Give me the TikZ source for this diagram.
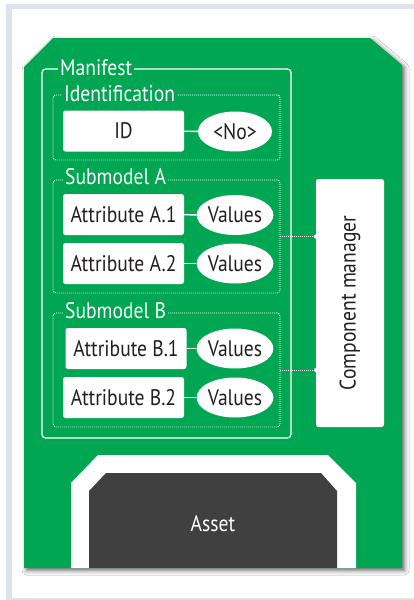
\documentclass[tikz,border=0pt]{standalone}
\usepackage{fontspec}
\setmainfont{PT Sans}[FakeStretch=0.87]
\usetikzlibrary{shapes.geometric,shadows.blur}
\definecolor{leafgreen}{HTML}{00A651}
\definecolor{assetgray}{HTML}{404040}
\definecolor{framegray}{HTML}{DDE3EA}
\definecolor{inktext}{HTML}{231F20}
\begin{document}
\begin{tikzpicture}[x=1pt,y=-1pt,
  txt/.style={font=\fontsize{22.5}{26}\selectfont},
  attrbox/.style={txt, fill=white, rounded corners=2.5pt, minimum width=121pt,
    minimum height=41pt, text=inktext, inner sep=0pt},
  valnode/.style={txt, ellipse, fill=white, minimum width=74pt, minimum height=40pt,
    text=inktext, inner sep=0pt},
  groupbox/.style={draw=white, line width=0.9pt, dash pattern=on 0.9pt off 1.1pt,
    rounded corners=3pt, minimum width=227pt, inner sep=0pt},
  grouplabel/.style={txt, fill=leafgreen, text=white, inner sep=2pt, anchor=west},
  link/.style={draw=white, line width=1.4pt},
  dotlink/.style={draw=white, line width=0.9pt, dash pattern=on 0.9pt off 1.1pt},
]
\useasboundingbox (0,0) rectangle (414,600);
% page frame
\fill[framegray] (6,4) rectangle (420,600);
\fill[white] (12,9) rectangle (420,597.5);

% component body with cut top corners
\fill[leafgreen, blur shadow={shadow xshift=2.5pt, shadow yshift=-2.5pt,
    shadow blur radius=4.5pt, shadow opacity=60}]
  (24,67) -- (53,38) -- (370,38) -- (402,65) -- (402,568) -- (24,568) -- cycle;

% asset
\fill[white] (71,568) -- (71,483) -- (98,455) -- (328,455) -- (356,483) -- (356,568) -- cycle;
\fill[assetgray] (89,568) -- (89,491) -- (106,473) -- (321,473) -- (337,491) -- (337,568) -- cycle;
\node[txt, text=white] (asset) at (213,524) {Asset};

% manifest frame
\node[draw=white, line width=1.2pt, rounded corners=3.5pt, minimum width=249pt,
  minimum height=369pt, inner sep=0pt] (manifest) at (166.5,253.5) {};
\node[grouplabel] (manifestlbl) at (58,68) {Manifest};

% identification
\node[groupbox, minimum height=65pt] (ident) at (166.5,127.5) {};
\node[grouplabel] (identlbl) at (62,94) {Identification};
\node[attrbox] (id) at (123.5,131) {ID};
\node[valnode] (idval) at (235,131.5) {<No>};
\draw[link] (id) -- (idval);

% submodel A
\node[groupbox, minimum height=113pt] (subA) at (166.5,236.5) {};
\node[grouplabel] (subAlbl) at (63,177) {Submodel A};
\node[attrbox] (a1) at (123.5,214.5) {Attribute A.1};
\node[valnode] (a1val) at (235,215) {Values};
\node[attrbox] (a2) at (123.5,263.5) {Attribute A.2};
\node[valnode] (a2val) at (235,263.5) {Values};
\draw[link] (a1) -- (a1val);
\draw[link] (a2) -- (a2val);

% submodel B
\node[groupbox, minimum height=114pt] (subB) at (166.5,370) {};
\node[grouplabel] (subBlbl) at (63,311) {Submodel B};
\node[attrbox] (b1) at (126,348.5) {Attribute B.1};
\node[valnode] (b1val) at (235,348.5) {Values};
\node[attrbox] (b2) at (123.5,397.5) {Attribute B.2};
\node[valnode] (b2val) at (235,397.5) {Values};
\draw[link] (b1) -- (b1val);
\draw[link] (b2) -- (b2val);

% component manager
\node[txt, fill=white, rounded corners=2.5pt, minimum width=68pt, minimum height=248pt,
  inner sep=0pt, text=inktext] (cm) at (350,303) {};
\node[txt, rotate=90, text=inktext] (cmlbl) at (cm.center) {Component manager};
\coordinate (cmA) at (subA.east -| cm.west);
\coordinate (cmB) at (subB.east -| cm.west);
\draw[dotlink] (subA.east) -- (cmA);
\draw[dotlink] (subB.east) -- (cmB);
\fill[white] (cmA) circle (2pt);
\fill[white] (cmB) circle (2pt);
\end{tikzpicture}
\end{document}
